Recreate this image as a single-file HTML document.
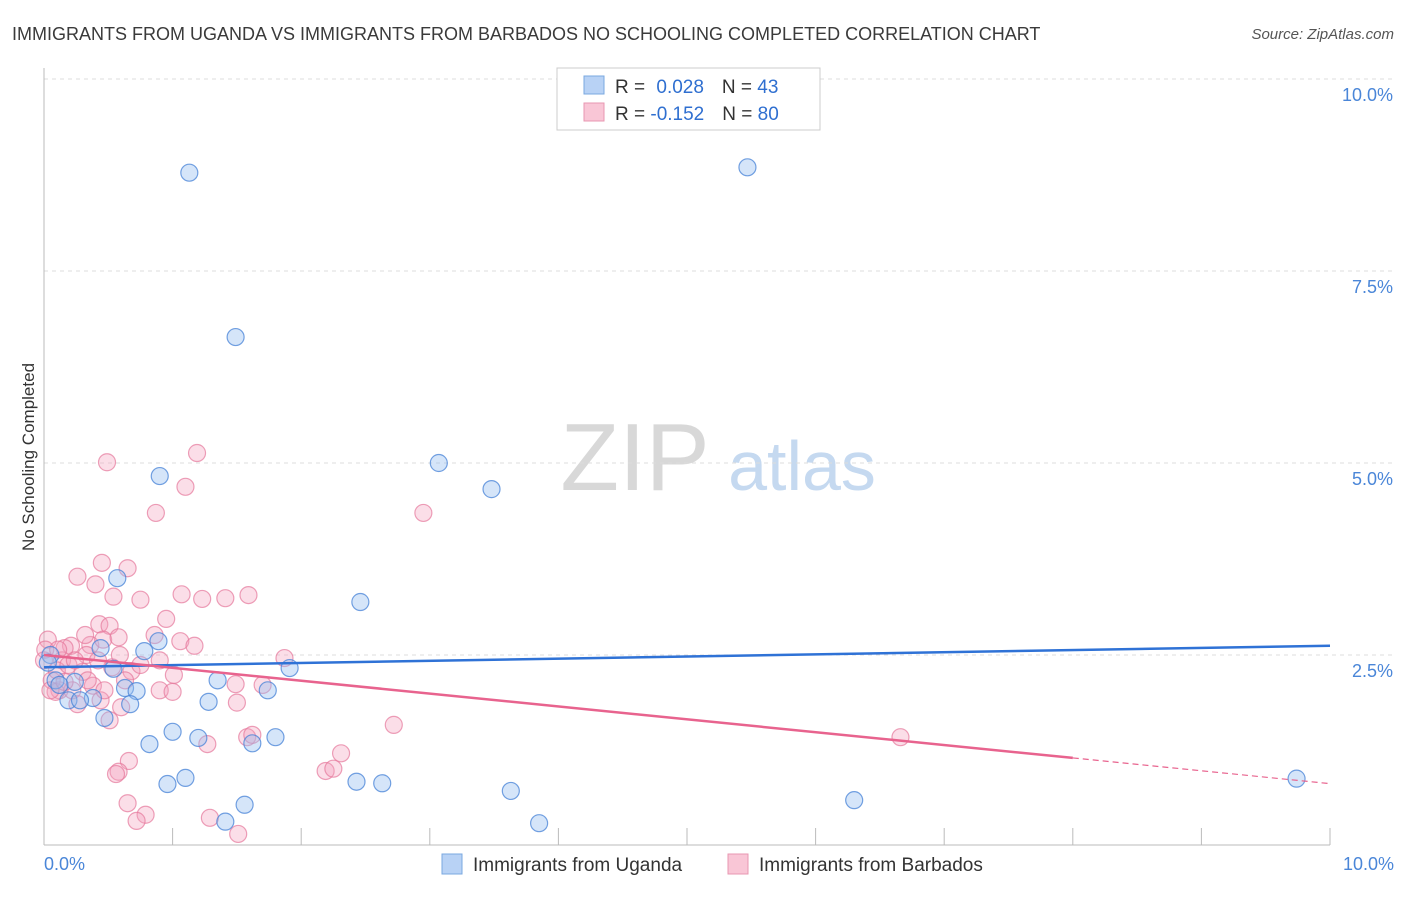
<!DOCTYPE html>
<html><head><meta charset="utf-8"><style>
body{margin:0;background:#fff;font-family:"Liberation Sans",sans-serif}
svg text{font-family:"Liberation Sans",sans-serif}
</style></head><body>
<svg id="chart" width="1406" height="892" viewBox="0 0 1406 892">
<text x="12" y="40" font-size="18" fill="#3a3a3a">IMMIGRANTS FROM UGANDA VS IMMIGRANTS FROM BARBADOS NO SCHOOLING COMPLETED CORRELATION CHART</text>
<text x="1394" y="39" font-size="15" fill="#555" text-anchor="end" font-style="italic">Source: ZipAtlas.com</text>
<text transform="translate(34,457) rotate(-90)" font-size="17" fill="#333" text-anchor="middle">No Schooling Completed</text>
<g>
<text x="635" y="490" font-size="96" fill="#d8d8d8" text-anchor="middle" font-family="Liberation Serif, serif">ZIP</text>
<text x="802" y="490" font-size="70" fill="#c5d9f0" text-anchor="middle">atlas</text>
</g>
<g id="grid"></g><g id="axes"></g><g id="pts"></g><g id="trends"></g>
<g>
<rect x="557" y="68" width="263" height="62" fill="#fff" stroke="#ccc"/>
<rect x="584" y="76" width="20" height="18" fill="#b8d2f5" stroke="#7aa8e0"/>
<rect x="584" y="103" width="20" height="18" fill="#f9c6d6" stroke="#e897b1"/>
<text x="615" y="93" font-size="19" fill="#333">R = <tspan fill="#2f6fd0" dx="6">0.028</tspan><tspan dx="18" fill="#333">N = </tspan><tspan fill="#2f6fd0">43</tspan></text>
<text x="615" y="120" font-size="19" fill="#333">R = <tspan fill="#2f6fd0">-0.152</tspan><tspan dx="18" fill="#333">N = </tspan><tspan fill="#2f6fd0">80</tspan></text>
</g>
<g>
<rect x="442" y="854" width="20" height="20" fill="#b8d2f5" stroke="#7aa8e0"/>
<text x="473" y="871" font-size="19" fill="#333">Immigrants from Uganda</text>
<rect x="728" y="854" width="20" height="20" fill="#f9c6d6" stroke="#e897b1"/>
<text x="759" y="871" font-size="19" fill="#333">Immigrants from Barbados</text>
</g>
</svg>
<script>
const yTicks=[2.5,5.0,7.5,10.0];
const yTickLabels=["2.5%","5.0%","7.5%","10.0%"];
const xTickLabels=["0.0%","10.0%"];
const ugandaX=[1.13,5.47,1.49,0.90,3.07,3.48,0.57,2.46,0.89,0.44,0.78,0.05,1.91,1.35,0.24,0.54,0.63,0.72,0.38,0.19,0.47,0.67,1.28,1.74,0.82,1.00,1.20,1.62,1.80,0.96,1.10,1.56,1.41,2.43,2.63,3.63,3.85,6.30,9.74,0.09,0.03,0.28,0.12];
const ugandaY=[8.78,8.85,6.64,4.83,5.00,4.66,3.50,3.19,2.68,2.59,2.55,2.50,2.33,2.17,2.15,2.32,2.07,2.03,1.94,1.91,1.68,1.86,1.89,2.04,1.34,1.50,1.42,1.35,1.43,0.82,0.90,0.55,0.33,0.85,0.83,0.73,0.31,0.61,0.89,2.17,2.40,1.91,2.11];
const barbadosX=[0.49,1.19,1.10,0.87,2.95,0.26,0.45,0.65,0.40,0.54,0.75,1.07,1.23,1.41,1.59,0.95,0.03,0.43,0.51,0.21,0.36,0.46,0.58,1.06,1.17,0.90,0.33,0.14,0.68,0.53,0.63,1.01,1.87,0.12,0.06,0.09,0.26,0.38,1.70,1.49,0.90,1.00,1.50,0.60,0.51,0.10,0.19,0.00,1.27,1.58,1.62,2.31,2.72,6.66,0.66,0.58,0.56,2.19,2.25,0.65,0.79,0.72,1.29,1.51,0.16,0.22,0.30,0.05,0.42,0.16,0.24,0.34,0.44,0.75,0.01,0.11,0.32,0.47,0.59,0.86];
const barbadosY=[5.01,5.13,4.69,4.35,4.35,3.52,3.70,3.63,3.42,3.26,3.22,3.29,3.23,3.24,3.28,2.97,2.70,2.90,2.88,2.62,2.63,2.70,2.73,2.68,2.62,2.43,2.50,2.43,2.29,2.34,2.17,2.24,2.46,2.04,2.17,2.02,1.86,2.10,2.11,2.12,2.04,2.02,1.88,1.82,1.65,2.30,2.37,2.43,1.34,1.43,1.46,1.22,1.59,1.43,1.12,0.98,0.95,0.99,1.02,0.57,0.42,0.34,0.38,0.17,2.59,2.04,2.28,2.04,2.43,2.15,2.43,2.17,1.91,2.37,2.57,2.57,2.76,2.04,2.50,2.76];
const ugandaTrend=[2.34,2.62];
const barbadosTrend=[2.50,0.825];
const barbadosSolidEnd=8.0;

const X0=44,X1=1330,Y0=847,YPX=76.8;
const sx=v=>X0+v*(X1-X0)/10;
const sy=v=>Y0-v*YPX;
const NS="http://www.w3.org/2000/svg";
function mk(tag,parent,attrs){const e=document.createElementNS(NS,tag);for(const k in attrs)e.setAttribute(k,attrs[k]);parent.appendChild(e);return e;}
const grid=document.getElementById('grid'),axes=document.getElementById('axes'),pts=document.getElementById('pts'),tr=document.getElementById('trends'),svg=document.getElementById('chart');
yTicks.forEach((t,i)=>{
 const l=mk('line',grid,{x1:X0,x2:1394,y1:sy(t),y2:sy(t),stroke:'#ddd','stroke-dasharray':'4,4'});
 
 
 const tx=mk('text',grid,{x:1393,y:sy(t)+22,'font-size':18,fill:'#4a86d8','text-anchor':'end'});
 tx.textContent=yTickLabels[i];
 
 
});
const la=mk('line',axes,{x1:X0,x2:X0,y1:68,y2:845,stroke:'#bbb'});


const ba=mk('line',axes,{x1:X0,x2:X1,y1:845,y2:845,stroke:'#bbb'});


for(let i=1;i<=10;i++){
 const t=mk('line',axes,{x1:sx(i),x2:sx(i),y1:828,y2:845,stroke:'#bbb'});
 
 
}
[[0,'start',X0],[10,'end',1394]].forEach((a,i)=>{
 const tx=mk('text',axes,{x:a[2],y:870,'font-size':18,fill:'#4a86d8','text-anchor':a[1]});
 tx.textContent=xTickLabels[i];
 
 
});
barbadosX.forEach((x,i)=>{
 const c=mk('circle',pts,{cx:sx(x),cy:sy(barbadosY[i]),r:8.5,fill:'rgba(244,160,188,0.35)',stroke:'rgba(230,120,155,0.7)','stroke-width':1.2});
 
 
});
ugandaX.forEach((x,i)=>{
 const c=mk('circle',pts,{cx:sx(x),cy:sy(ugandaY[i]),r:8.5,fill:'rgba(150,190,240,0.4)',stroke:'rgba(70,130,215,0.75)','stroke-width':1.2});
 
 
});
const ub=mk('line',tr,{x1:sx(0),x2:sx(10),y1:sy(ugandaTrend[0]),y2:sy(ugandaTrend[1]),stroke:'#2f72d6','stroke-width':2.5});


const bAt=v=>barbadosTrend[0]+(barbadosTrend[1]-barbadosTrend[0])*v/10;
const pb=mk('line',tr,{x1:sx(0),x2:sx(barbadosSolidEnd),y1:sy(bAt(0)),y2:sy(bAt(barbadosSolidEnd)),stroke:'#e8638e','stroke-width':2.5});


const pd=mk('line',tr,{x1:sx(barbadosSolidEnd),x2:sx(10),y1:sy(bAt(barbadosSolidEnd)),y2:sy(bAt(10)),stroke:'#e8638e','stroke-width':1.2,'stroke-dasharray':'6,4'});


</script>
</body></html>
